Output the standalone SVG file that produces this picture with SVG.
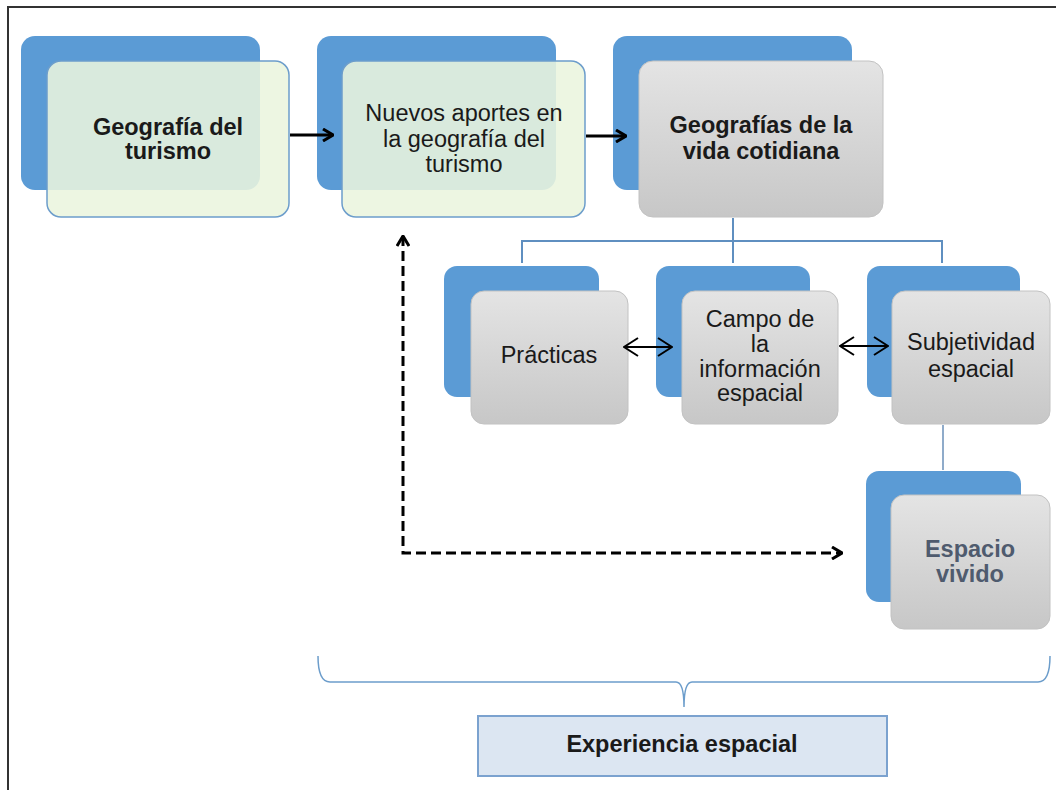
<svg xmlns="http://www.w3.org/2000/svg" width="1056" height="790" viewBox="0 0 1056 790">
<defs>
<linearGradient id="gray" x1="0" y1="0" x2="0" y2="1">
<stop offset="0" stop-color="#e4e4e4"/>
<stop offset="1" stop-color="#c7c7c7"/>
</linearGradient>
<marker id="chev" viewBox="0 0 12 14" refX="11" refY="7" markerWidth="12" markerHeight="14" markerUnits="userSpaceOnUse" orient="auto-start-reverse">
<path d="M1,1 L11,7 L1,13" fill="none" stroke="#000" stroke-width="3"/>
</marker>
<marker id="chevThin" viewBox="0 0 16 20" refX="15" refY="10" markerWidth="16" markerHeight="20" markerUnits="userSpaceOnUse" orient="auto-start-reverse">
<path d="M1,1 L15,10 L1,19" fill="none" stroke="#000" stroke-width="2"/>
</marker>
</defs>
<style>
.back{fill:#5b9bd5;}
.green{fill:#ebf5de;fill-opacity:0.88;stroke:#6c9dcb;stroke-width:1.5;}
.grayf{fill:url(#gray);stroke:#c2c2c2;stroke-width:1;}
.t{font-family:"Liberation Sans",Arial,sans-serif;font-size:23.5px;fill:#1a1a1a;text-anchor:middle;}
.b{font-weight:bold;}
.tree{fill:none;stroke:#5f8fc0;stroke-width:2;}
</style>
<rect width="1056" height="790" fill="#ffffff"/>
<path d="M8,790 V7 H1056" fill="none" stroke="#333" stroke-width="2"/>

<g id="n1">
<rect class="back" x="21" y="36" width="239" height="154" rx="14"/>
<rect class="green" x="47" y="61" width="242" height="156" rx="14"/>
<text class="t b" x="168" y="135">Geografía del</text>
<text class="t b" x="168" y="159">turismo</text>
</g>

<g id="n2">
<rect class="back" x="317" y="36" width="239" height="154" rx="14"/>
<rect class="green" x="342" y="61" width="243" height="156" rx="14"/>
<text class="t" x="464" y="121">Nuevos aportes en</text>
<text class="t" x="464" y="147">la geografía del</text>
<text class="t" x="464" y="172">turismo</text>
</g>

<g id="n3">
<rect class="back" x="613" y="36" width="239" height="154" rx="14"/>
<rect class="grayf" x="639" y="61" width="244" height="156" rx="14"/>
<text class="t b" x="761" y="133">Geografías de la</text>
<text class="t b" x="761" y="159">vida cotidiana</text>
</g>

<g id="n4">
<rect class="back" x="444" y="266" width="155" height="131" rx="13"/>
<rect class="grayf" x="471" y="291" width="157" height="133" rx="13"/>
<text class="t" x="549" y="363">Prácticas</text>
</g>

<g id="n5">
<rect class="back" x="656" y="266" width="154" height="131" rx="13"/>
<rect class="grayf" x="682" y="291" width="156" height="133" rx="13"/>
<text class="t" x="760" y="327">Campo de</text>
<text class="t" x="760" y="352">la</text>
<text class="t" x="760" y="377">información</text>
<text class="t" x="760" y="401">espacial</text>
</g>

<g id="n6">
<rect class="back" x="867" y="266" width="153" height="131" rx="13"/>
<rect class="grayf" x="892" y="291" width="158" height="133" rx="13"/>
<text class="t" x="971" y="350">Subjetividad</text>
<text class="t" x="971" y="377">espacial</text>
</g>

<g id="n7">
<rect class="back" x="866" y="471" width="155" height="131" rx="13"/>
<rect class="grayf" x="891" y="495" width="159" height="134" rx="13"/>
<text class="t b" x="970" y="557" style="fill:#4f5b6e">Espacio</text>
<text class="t b" x="970" y="582" style="fill:#4f5b6e">vivido</text>
</g>

<g id="n8">
<rect x="478" y="716" width="409" height="60" fill="#dce6f2" stroke="#7ba2cf" stroke-width="2"/>
<text class="t b" x="682" y="752">Experiencia espacial</text>
</g>

<g id="connectors">
<line x1="290" y1="135" x2="333" y2="135" stroke="#000" stroke-width="3" marker-end="url(#chev)"/>
<line x1="586" y1="136" x2="626" y2="136" stroke="#000" stroke-width="3" marker-end="url(#chev)"/>
<path class="tree" d="M733,218 V241 M522,263 V241 H942 V263 M733,241 V263"/>
<line x1="943" y1="425" x2="943" y2="470" stroke="#6a8fb8" stroke-width="1.5"/>
<line x1="624" y1="347" x2="672" y2="347" stroke="#000" stroke-width="2" marker-start="url(#chevThin)" marker-end="url(#chevThin)"/>
<line x1="840" y1="346" x2="888" y2="346" stroke="#000" stroke-width="2" marker-start="url(#chevThin)" marker-end="url(#chevThin)"/>
<path d="M403,236 V553 H842" fill="none" stroke="#000" stroke-width="3" stroke-dasharray="10 5" marker-start="url(#chev)" marker-end="url(#chev)"/>
<path d="M318,656 Q318,682 330,682 L676,682 Q684,682 684,707 Q684,682 692,682 L1038,682 Q1050,682 1050,656" fill="none" stroke="#6c9dcb" stroke-width="1.5"/>
</g>
</svg>
